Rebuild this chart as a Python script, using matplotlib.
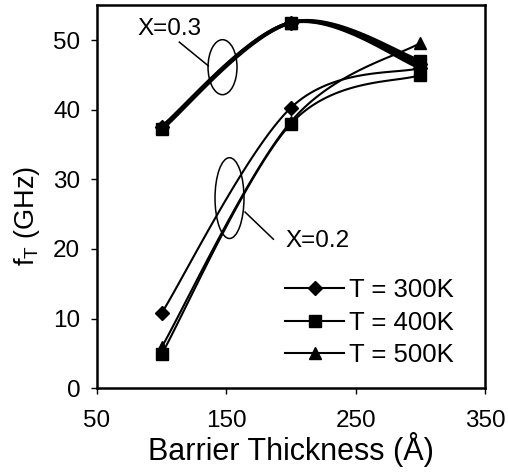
import numpy as np
import matplotlib
matplotlib.use("Agg")
import matplotlib.pyplot as plt
from matplotlib.patches import Ellipse
from matplotlib.lines import Line2D

plt.rcParams['font.family'] = ['Liberation Sans', 'DejaVu Sans']

# Barrier thickness (Angstrom)
thickness = [100, 200, 300]

# f_T (GHz) for Al mole fraction X = 0.3
ft_x03_300k = [37.5, 52.5, 46.5]
ft_x03_400k = [37.2, 52.5, 47.0]
ft_x03_500k = [37.5, 52.5, 46.0]

# f_T (GHz) for Al mole fraction X = 0.2
ft_x02_300k = [10.8, 40.3, 46.0]
ft_x02_400k = [4.9, 38.0, 45.0]
ft_x02_500k = [5.9, 38.3, 49.6]

legend_labels = ["T = 300K", "T = 400K", "T = 500K"]
markers = ["D", "s", "^"]


def smooth(x, y, n=60):
    """Catmull-Rom style smoothing through the points (Bezier segments)."""
    p = np.column_stack([x, y]).astype(float)
    ext = np.vstack([p[0], p, p[-1]])
    t = np.linspace(0, 1, n)[:, None]
    out = []
    for i in range(len(p) - 1):
        p0, p1 = ext[i + 1], ext[i + 2]
        c1 = p0 + (ext[i + 2] - ext[i]) / 6.0
        c2 = p1 - (ext[i + 3] - ext[i + 1]) / 6.0
        seg = ((1 - t) ** 3) * p0 + 3 * ((1 - t) ** 2) * t * c1 \
            + 3 * (1 - t) * t ** 2 * c2 + t ** 3 * p1
        out.append(seg if i == 0 else seg[1:])
    seg = np.vstack(out)
    return seg[:, 0], seg[:, 1]


fig = plt.figure(figsize=(5.08, 4.74), dpi=100)
ax = fig.add_axes([0.191, 0.181, 0.764, 0.808])

groups = [
    ([ft_x03_300k, ft_x03_400k, ft_x03_500k], 2.6),
    ([ft_x02_300k, ft_x02_400k, ft_x02_500k], 1.5),
]
for series, lw in groups:
    for vals, mk in zip(series, markers):
        sx, sy = smooth(thickness, vals)
        ax.plot(sx, sy, color="black", lw=lw, zorder=2)
        ax.plot(thickness, vals, linestyle="none", marker=mk,
                color="black", ms=8.5 if mk != "D" else 7.5, zorder=3)

# Group annotations
ax.add_patch(Ellipse((147, 46.1), 22.4, 7.9, fill=False, ec="black", lw=1.1))
ax.plot([113.6, 136.0], [49.7, 46.3], color="black", lw=1.1)
ax.text(105.7, 51.6, "X=0.3", fontsize=17.5, ha="center", va="center")

ax.add_patch(Ellipse((152.4, 27.3), 22.4, 11.6, fill=False, ec="black", lw=1.1))
ax.plot([164.4, 186.3], [25.3, 21.4], color="black", lw=1.1)
ax.text(220.5, 21.2, "X=0.2", fontsize=17.5, ha="center", va="center")

handles = [Line2D([], [], color="black", lw=1.5, marker=m,
                  ms=8.5 if m != "D" else 7.5) for m in markers]
ax.legend(handles, legend_labels, loc="upper left", frameon=False,
          fontsize=18.5, handlelength=2.3, handletextpad=0.2,
          labelspacing=0.32, borderpad=0, borderaxespad=0,
          bbox_to_anchor=(0.485, 0.287))

ax.set_xlim(50, 350)
ax.set_ylim(0, 55)
ax.set_xticks([50, 150, 250, 350])
ax.set_yticks([0, 10, 20, 30, 40, 50])
ax.tick_params(labelsize=17.5, direction="out", length=4, width=1)
ax.tick_params(axis="x", pad=12)
ax.tick_params(axis="y", pad=8)
for s in ax.spines.values():
    s.set_linewidth(1.8)

ax.set_xlabel("Barrier Thickness (Å)", fontsize=22, labelpad=0)
ax.set_ylabel(r"f$_\mathregular{T}$ (GHz)", fontsize=19.5)
ax.yaxis.set_label_coords(-0.142, 0.45)

fig.savefig("out.png", dpi=100)
